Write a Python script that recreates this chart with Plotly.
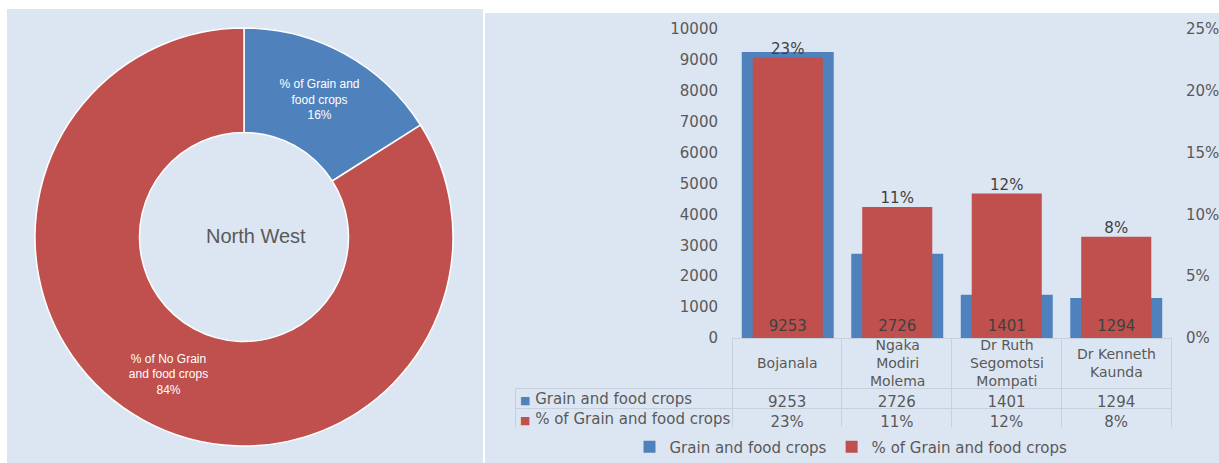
import plotly.graph_objects as go

# ---------------- data ----------------
donut_labels = ["% of Grain and<br>food crops", "% of No Grain<br>and food crops"]
donut_values = [16, 84]
donut_title = "North West"

districts = ["Bojanala", "Ngaka Modiri Molema", "Dr Ruth Segomotsi Mompati", "Dr Kenneth Kaunda"]
district_labels = ["Bojanala", "Ngaka<br>Modiri<br>Molema", "Dr Ruth<br>Segomotsi<br>Mompati", "Dr Kenneth<br>Kaunda"]
grain_counts = [9253, 2726, 1401, 1294]
grain_share = [0.227, 0.106, 0.117, 0.082]
series_names = ["Grain and food crops", "% of Grain and food crops"]

left_ticks = [0, 1000, 2000, 3000, 4000, 5000, 6000, 7000, 8000, 9000, 10000]
right_ticks = [0, 0.05, 0.10, 0.15, 0.20, 0.25]

# ---------------- style ----------------
W, H = 1219, 463
BLUE = "#4F81BD"
RED = "#C0504D"
BG = "#DCE6F2"
LINE = "#C7D1DE"
TXT = "#595959"
DARK = "#404040"
CLEAR = "rgba(0,0,0,0)"
FONT_R = "DejaVu Sans"
FONT_L = "Liberation Sans"


def px_x(p):
    return p / W


def px_y(p):
    return (H - p) / H


fig = go.Figure()

# ---- donut ----
cx, cy, r = 244, 237, 209
fig.add_trace(go.Pie(
    labels=donut_labels,
    values=donut_values,
    hole=0.5,
    sort=False,
    direction="clockwise",
    rotation=0,
    marker=dict(colors=[BLUE, RED], line=dict(color="white", width=1.5)),
    texttemplate="%{label}<br>%{percent:.0%}",
    textposition="inside",
    insidetextorientation="horizontal",
    textfont=dict(family=FONT_L, size=12, color="white"),
    domain=dict(x=[px_x(cx - r), px_x(cx + r)], y=[px_y(cy + r), px_y(cy - r)]),
    showlegend=False,
    hoverinfo="skip",
))

# ---- bars ----
fig.add_trace(go.Bar(
    x=districts, y=grain_counts, name=series_names[0],
    marker=dict(color=BLUE, line=dict(width=0)),
    width=0.84, offset=-0.42,
    xaxis="x", yaxis="y", hoverinfo="skip",
))
fig.add_trace(go.Bar(
    x=districts, y=grain_share, name=series_names[1],
    marker=dict(color=RED, line=dict(width=0)),
    width=0.64, offset=-0.32,
    xaxis="x", yaxis="y2", hoverinfo="skip",
))
# percentage labels sitting on top of the red bars
fig.add_trace(go.Scatter(
    x=districts, y=grain_share, mode="text",
    text=[f"{s:.0%}" for s in grain_share], textposition="top center",
    textfont=dict(family=FONT_R, size=15, color=DARK),
    cliponaxis=False, xaxis="x", yaxis="y2", showlegend=False, hoverinfo="skip",
))
# value labels at the foot of the blue bars (drawn above the red bars)
fig.add_trace(go.Bar(
    x=districts, y=grain_counts,
    marker=dict(color=CLEAR, line=dict(width=0)),
    width=0.84, offset=-0.42,
    text=[str(v) for v in grain_counts],
    textposition="inside", insidetextanchor="start",
    insidetextfont=dict(family=FONT_R, size=15, color=DARK),
    xaxis="x", yaxis="y3", showlegend=False, hoverinfo="skip",
))

# ---- data table ----
cols = [["", ""]] + [[str(c), f"{s:.0%}"] for c, s in zip(grain_counts, grain_share)]
fig.add_trace(go.Table(
    domain=dict(x=[px_x(515), px_x(1171)], y=[px_y(428), px_y(338)]),
    columnwidth=[217, 109.5, 109.5, 109.5, 109.5],
    header=dict(values=[""] * 5, height=50, fill=dict(color=[CLEAR, BG, BG, BG, BG]),
                line=dict(color=[CLEAR] + [LINE] * 4, width=1)),
    cells=dict(values=cols, height=20, fill=dict(color=BG),
               line=dict(color=LINE, width=1),
               align=["left", "center", "center", "center", "center"],
               font=dict(family=FONT_R, size=15, color=TXT)),
))

annotations = [
    dict(text=donut_title, x=px_x(256), y=px_y(236), xref="paper", yref="paper",
         xanchor="center", yanchor="middle",
         showarrow=False, font=dict(family=FONT_L, size=20, color=TXT)),
]
for i, lab in enumerate(district_labels):
    annotations.append(dict(
        text=lab, x=i, xref="x", y=px_y(363), yref="paper", yanchor="middle",
        xanchor="center",
        showarrow=False, font=dict(family=FONT_R, size=14, color=TXT)))
for name, col, yy in zip(series_names, [BLUE, RED], [399, 419]):
    annotations.append(dict(
        text=f"<span style='color:{col};font-size:11px'>■</span> {name}",
        x=px_x(518), xref="paper", xanchor="left", y=px_y(yy), yref="paper",
        yanchor="middle", showarrow=False,
        font=dict(family=FONT_R, size=15, color=TXT)))

shapes = [
    dict(type="rect", xref="paper", yref="paper", x0=px_x(7), x1=px_x(483), y0=0, y1=px_y(9),
         fillcolor=BG, line=dict(width=0), layer="below"),
    dict(type="rect", xref="paper", yref="paper", x0=px_x(485), x1=1, y0=0, y1=px_y(13),
         fillcolor=BG, line=dict(width=0), layer="below"),
]

axis_font = dict(family=FONT_R, size=15, color=TXT)
fig.update_layout(
    width=W, height=H,
    margin=dict(l=0, r=0, t=0, b=0, pad=0, autoexpand=False),
    paper_bgcolor="white",
    plot_bgcolor=CLEAR,
    barmode="overlay",
    xaxis=dict(domain=[px_x(733), px_x(1171)], type="category", range=[-0.5, 3.5],
               showticklabels=False, showgrid=False, zeroline=False, showline=False,
               ticks="", fixedrange=True, automargin=False),
    yaxis=dict(domain=[px_y(338), px_y(29)], range=[0, 10000], tickvals=left_ticks,
               tickformat="d", tickfont=axis_font, showgrid=False, zeroline=False,
               showline=False, ticklabelstandoff=14, fixedrange=True, automargin=False),
    yaxis2=dict(overlaying="y", side="right", range=[0, 0.25], tickvals=right_ticks,
                tickformat=".0%", tickfont=axis_font, showgrid=False, zeroline=False,
                showline=False, ticklabelstandoff=14, fixedrange=True, automargin=False),
    yaxis3=dict(overlaying="y", range=[0, 10000], visible=False, fixedrange=True,
                automargin=False),
    legend=dict(orientation="h", x=px_x(851), xanchor="center", y=px_y(447), yanchor="middle",
                font=dict(family=FONT_R, size=15, color=TXT), bgcolor=CLEAR,
                traceorder="normal"),
    annotations=annotations,
    shapes=shapes,
)

fig.write_html(
    "out.html",
    config={"displayModeBar": False, "responsive": False},
    post_script=(
        "document.body.style.margin='0';document.body.style.padding='0';"
        "var d=document.getElementById('{plot_id}');"
        "d.style.position='fixed';d.style.left='0px';d.style.top='0px';"
    ),
)
